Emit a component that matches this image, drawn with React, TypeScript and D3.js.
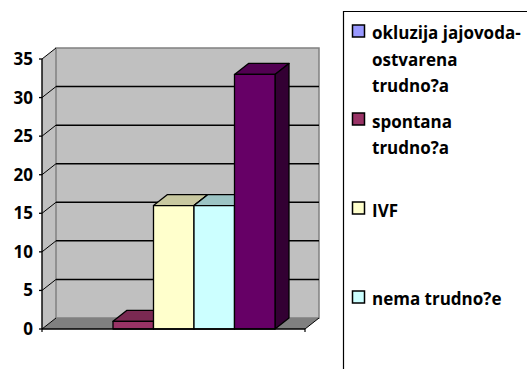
import React from "react";
import * as d3 from "d3";

const barNames = ["okluzija jajovoda-ostvarena trudno?a", "spontana trudno?a", "IVF", "nema trudno?e", "ostalo"];
const barValues = [0, 1, 16, 16, 33];
const barFronts = ["#9999FF", "#993366", "#FFFFCC", "#CCFFFF", "#660066"];
const barTops = ["#7A7ACC", "#7A2952", "#C8C8A0", "#9CC4C4", "#520052"];
const barSides = ["#4D4D80", "#4D1A33", "#808066", "#668080", "#330033"];
const yTicks = [0, 5, 10, 15, 20, 25, 30, 35];
const legendRows = [
  { color: "#9999FF", lines: ["okluzija jajovoda-", "ostvarena", "trudno?a"], swatchY: 31, baselines: [39, 66, 92] },
  { color: "#993366", lines: ["spontana", "trudno?a"], swatchY: 119, baselines: [128, 154] },
  { color: "#FFFFCC", lines: ["IVF"], swatchY: 208, baselines: [217] },
  { color: "#CCFFFF", lines: ["nema trudno?e"], swatchY: 297, baselines: [305] },
];

const DX = 14;
const DY = -11;
const y = d3.scaleLinear().domain([0, 35]).range([329, 59]);
const x = d3.scaleBand<number>().domain(d3.range(barValues.length).map((i) => i)).range([72.5, 275]).paddingInner(0).paddingOuter(0);
const xEnd = 305;
const xStart = 42;
const poly = (pts: [number, number][]) => pts.map((p) => p.join(",")).join(" ");

export default function App() {
  const bw = x.bandwidth();
  return (
    <svg width={527} height={369} style={{ position: "absolute", left: 0, top: 0, background: "#fff" }}>
      {/* walls */}
      <polygon points={poly([[xStart, y(0)], [xStart + DX, y(0) + DY], [xStart + DX, y(35) + DY], [xStart, y(35)]])} fill="#C0C0C0" />
      <polygon points={poly([[xStart + DX, y(0) + DY], [xEnd + DX, y(0) + DY], [xEnd + DX, y(35) + DY], [xStart + DX, y(35) + DY]])} fill="#C0C0C0" stroke="#808080" strokeWidth={1.5} />
      <polygon points={poly([[xStart, y(0)], [xEnd, y(0)], [xEnd + DX, y(0) + DY], [xStart + DX, y(0) + DY]])} fill="#808080" />
      {/* gridlines */}
      {yTicks.map((t) => (
        <g key={t}>
          {t > 0 && t < 35 && (
            <line x1={xStart + DX} x2={xEnd + DX} y1={y(t) + DY} y2={y(t) + DY} stroke="#000" strokeWidth={1.5} />
          )}
          <line x1={xStart} x2={xStart + DX} y1={y(t)} y2={y(t) + DY} stroke="#000" strokeWidth={1} />
          <line x1={xStart - 3} x2={xStart} y1={y(t)} y2={y(t)} stroke="#000" strokeWidth={1.3} />
          <text x={33} y={y(t) + 6} textAnchor="end" fontFamily="Open Sans" fontWeight={700} fontSize={17} fill="#000">{t}</text>
        </g>
      ))}
      {/* bars */}
      {barValues.map((v, i) => {
        if (v === 0) return null;
        const l = x(i)!;
        const r = l + bw;
        const t = y(v);
        const b = y(0);
        return (
          <g key={barNames[i]} stroke="#000" strokeWidth={1.3} strokeLinejoin="round">
            <polygon points={poly([[l, t], [r, t], [r + DX, t + DY], [l + DX, t + DY]])} fill={barTops[i]} />
            <polygon points={poly([[r, t], [r + DX, t + DY], [r + DX, b + DY], [r, b]])} fill={barSides[i]} />
            <rect x={l} y={t} width={bw} height={b - t} fill={barFronts[i]} />
          </g>
        );
      })}
      {/* axes */}
      <line x1={xStart} x2={xStart} y1={y(35)} y2={y(0)} stroke="#000" strokeWidth={1.4} />
      <line x1={xStart} x2={xEnd} y1={y(0)} y2={y(0)} stroke="#000" strokeWidth={1.4} />
      <line x1={xEnd} x2={xEnd + DX} y1={y(0)} y2={y(0) + DY} stroke="#000" strokeWidth={1} />
      <line x1={xStart} x2={xStart} y1={y(0)} y2={y(0) + 3} stroke="#000" strokeWidth={1.2} />
      <line x1={xEnd} x2={xEnd} y1={y(0)} y2={y(0) + 3} stroke="#000" strokeWidth={1.2} />
      {/* legend */}
      <path d="M 343.5 369 V 11.5 H 527" fill="none" stroke="#000" strokeWidth={1.2} />
      {legendRows.map((row) => (
        <g key={row.lines[0]}>
          <rect x={352.5} y={row.swatchY - 6} width={12} height={12} fill={row.color} stroke="#000" strokeWidth={1.5} />
          {row.lines.map((ln, j) => (
            <text key={j} x={372} y={row.baselines[j]} fontFamily="Open Sans" fontWeight={700} fontSize={17} fill="#000">{ln}</text>
          ))}
        </g>
      ))}
    </svg>
  );
}
